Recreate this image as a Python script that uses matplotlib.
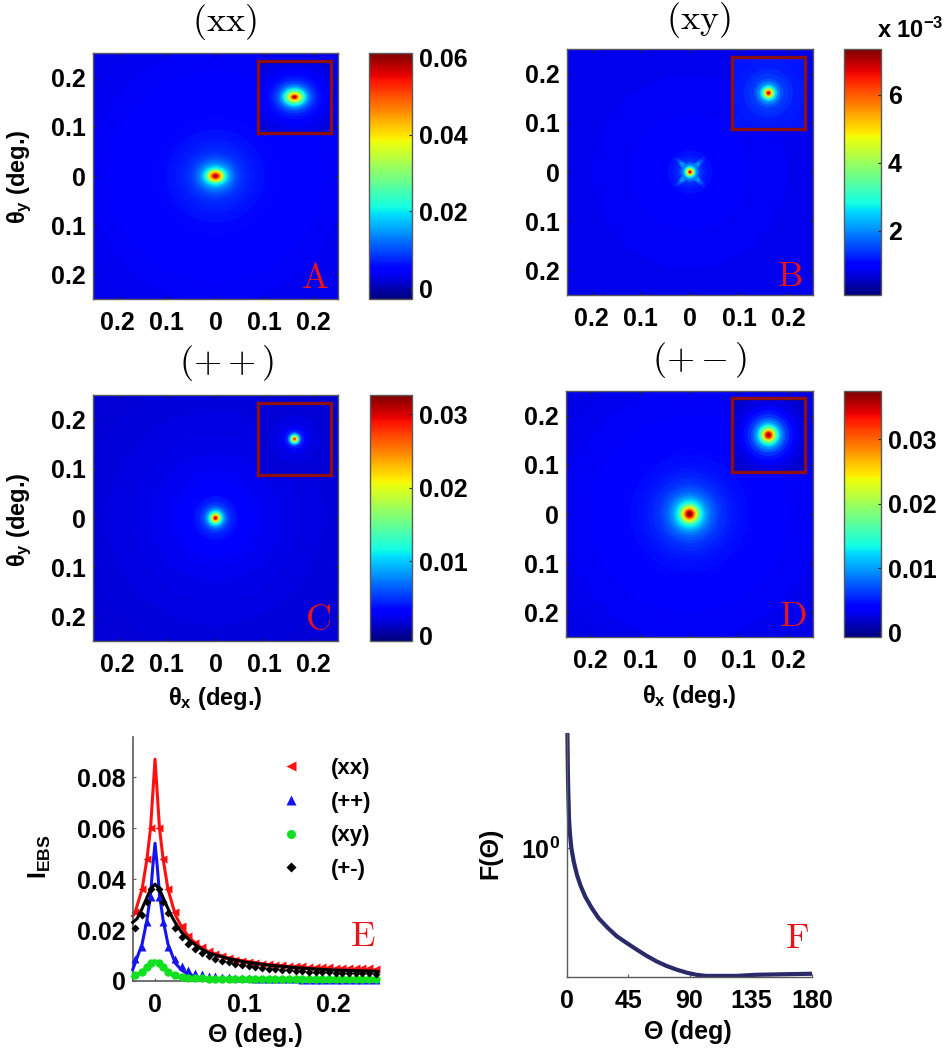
import matplotlib
matplotlib.use("Agg")
import matplotlib.pyplot as plt
from matplotlib.patches import Ellipse
from matplotlib.cm import ScalarMappable
from matplotlib.colors import Normalize
from matplotlib.lines import Line2D

plt.rcParams['font.family'] = ['Liberation Sans', 'DejaVu Sans']
plt.rcParams['font.weight'] = 'bold'
plt.rcParams['axes.labelweight'] = 'bold'
plt.rcParams['mathtext.fontset'] = 'custom'
plt.rcParams['mathtext.bf'] = 'Liberation Sans:bold'
plt.rcParams['mathtext.rm'] = 'Liberation Sans:bold'
plt.rcParams['mathtext.it'] = 'Liberation Sans:bold'

W, H = 949, 1050

# ---- data: angular ticks ----
ANG_TICKS = [-0.2, -0.1, 0, 0.1, 0.2]
ANG_LABELS = ['0.2', '0.1', '0', '0.1', '0.2']
ANG_YLABELS = ['0.2', '0.1', '0', '0.1', '0.2']

# ---- data: panel A (xx) contour levels ----
A_RX = [.36, .30, .26, .22, .19, .17, .15, .13, .115, .10, .09, .08, .07, .062, .055, .049, .044, .04, .036, .032,
        .029, .026, .023, .020, .018, .016, .014, .012, .010, .008, .006, .004, .0025]
A_RY = [.36, .30, .26, .215, .185, .165, .145, .125, .11, .095, .085, .074, .064, .056, .049, .043, .038, .034, .03, .026,
        .023, .02, .0175, .015, .0135, .012, .0105, .009, .0073, .0058, .0043, .0028, .0018]
A_V = [.0034, .0037, .0040, .0043, .0046, .0048, .0051, .0054, .0057, .0060, .0064, .0068, .0073, .0079, .0086, .0094, .0103, .0115, .0128, .0145,
       .016, .0185, .021, .024, .029, .034, .038, .042, .046, .050, .054, .058, .061]
AI_RX = [.11, .09, .075, .065, .055, .048, .042, .036, .031, .027, .023, .02, .017, .014, .012, .009, .0065, .004]
AI_RY = [.10, .08, .065, .055, .046, .040, .034, .029, .025, .021, .018, .015, .0125, .0105, .009, .0065, .0045, .003]
AI_V = [.0022, .003, .0038, .0048, .006, .0072, .0088, .0108, .0135, .0165, .0205, .024, .028, .033, .037, .044, .051, .058]
A_CB = [0, .02, .04, .06]

# ---- data: panel B (xy) ----
B_R = [.36, .20, .12, .08, .06, .045, .035, .028, .022, .018, .015, .012, .0095, .0075, .006, .0045, .003, .0018]
B_V = [.80, .85, .90, .95, 1.0, 1.1, 1.2, 1.3, 1.5, 1.8, 2.1, 2.7, 3.4, 4.2, 4.9, 5.6, 6.4, 7.0]
B_ARM_LEN = [.042, .035, .028]
B_ARM_WID = [.009, .008, .007]
B_ARM_V = [1.3, 1.6, 2.0]
BI_R = [.11, .07, .05, .04, .03, .024, .018, .014, .011, .0085, .0065, .005, .003]
BI_V = [1.15, 1.2, 1.3, 1.4, 1.6, 1.9, 2.4, 3.0, 3.7, 4.5, 5.2, 5.9, 6.7]
B_CB = [2, 4, 6]

# ---- data: panel C (++) ----
C_R = [.36, .28, .22, .17, .13, .10, .08, .065, .055, .045, .038, .032, .027, .023, .02, .017, .015, .013, .011, .009, .0075, .006, .0045, .003, .0015]
C_V = [.0017, .0019, .0021, .0023, .0025, .0027, .0029, .0032, .0035, .0039, .0044, .005, .0058, .0068, .008, .0095, .011, .0125, .015, .018, .021, .0235, .0265, .029, .031]
CI_R = [.11, .05, .03, .02, .014, .010, .007, .005, .003]
CI_V = [.0017, .0021, .0027, .0042, .0075, .012, .017, .022, .027]
C_CB = [0, .01, .02, .03]

# ---- data: panel D (+-) ----
D_R = [.34, .30, .26, .23, .20, .175, .155, .135, .12, .105, .095, .085, .075, .067, .06, .054, .048, .043, .038, .034,
       .03, .027, .024, .021, .019, .017, .015, .013, .011, .009, .007, .005, .003]
D_V = [.0028, .0030, .0032, .0034, .0036, .0038, .0040, .0042, .0044, .0046, .0049, .0052, .0056, .0060, .0065, .0071, .0078, .0086, .0095, .0105,
       .0118, .013, .0145, .0165, .0185, .0205, .0225, .0255, .0285, .031, .034, .036, .037]
DI_R = [.11, .09, .075, .06, .05, .042, .035, .03, .025, .021, .018, .015, .012, .01, .008, .006, .004]
DI_V = [.0016, .0021, .0027, .0036, .0048, .006, .0075, .009, .011, .0135, .016, .019, .023, .0265, .03, .033, .036]
D_CB = [0, .01, .02, .03]

# ---- data: panel E, marker series ----
THETA_M = [-.0227, -.0145, -.009, -.005, .005, .009, .0145, .0227,
           .03, .0375, .045, .0525, .06, .0675, .075, .0825, .09, .0975,
           .105, .1125, .12, .1275, .135, .1425, .15, .1575, .165, .1725,
           .18, .1875, .195, .2025, .21, .2175, .225, .2325, .24, .2475]
XX_M = [.027, .036, .048, .060, .060, .048, .036, .027,
        .0215, .0175, .015, .0132, .0118, .0106, .0097, .009, .0084, .0079,
        .0075, .0071, .0068, .0065, .0063, .0061, .0059, .0058, .0057, .0056,
        .0055, .0054, .0053, .0052, .0051, .0051, .005, .005, .005, .0049]
PP_M = [.0085, .0135, .023, .033, .033, .023, .0135, .0085,
        .006, .0043, .0033, .0026, .0021, .0018, .0016, .0014, .0012, .0011,
        .001, .0009, .00085, .0008, .00075, .0007, .00065, .0006, .00055, .0005,
        .00048, .00045, .00042, .0004, .00038, .00035, .00032, .0003, .00028, .00025]
XY_M = [.0022, .0035, .0055, .0072, .0072, .0055, .0035, .0022,
        .0016, .0013, .0011, .001, .0009, .00085, .0008, .0008, .00075, .00075,
        .0007, .0007, .0007, .0007, .00068, .00068, .00066, .00066, .00065, .00065,
        .00063, .00063, .00062, .00062, .0006, .0006, .0006, .0006, .0006, .0006]
PM_M = [.0206, .026, .031, .036, .036, .031, .0265, .0206,
        .0174, .0145, .0125, .011, .0098, .0088, .008, .0073, .0067, .0062,
        .0058, .0054, .0051, .0048, .0046, .0044, .0042, .004, .0039, .0037,
        .0036, .0035, .0034, .0033, .0032, .0032, .0031, .003, .003, .0029]

# ---- data: panel E, solid curves ----
XX_LX = [-.025, -.0227, -.0145, -.009, -.005, 0, .005, .009, .0145, .0227, .03, .04, .05, .06, .08, .10, .125, .15, .175, .20, .25]
XX_LY = [.0255, .0265, .036, .048, .060, .087, .060, .048, .036, .026, .021, .0165, .0135, .0115, .0092, .0078, .0065, .0057, .005, .0047, .0042]
PP_LX = [-.025, -.0145, -.009, -.005, -.0025, 0, .0025, .005, .009, .0145, .0227, .03, .04, .05, .07, .10, .25]
PP_LY = [.0045, .0145, .024, .034, .045, .054, .045, .034, .024, .0145, .007, .0042, .0022, .0013, .0006, .0003, .0001]
XY_LX = [-.025, -.015, -.01, -.005, 0, .005, .01, .015, .02, .03, .05, .25]
XY_LY = [.0015, .0035, .0055, .0072, .008, .0072, .0055, .0035, .002, .0012, .0008, .0006]
PM_LX = [-.025, -.02, -.015, -.01, -.005, 0, .005, .01, .015, .02, .025, .03, .04, .05, .06, .08, .10, .125, .15, .175, .20, .25]
PM_LY = [.023, .0245, .028, .032, .036, .038, .036, .032, .028, .0245, .0215, .019, .0155, .013, .011, .009, .0075, .0063, .0055, .0048, .0043, .0038]
E_XT = [0, .1, .2]
E_XL = ['0', '0.1', '0.2']
E_YT = [0, .02, .04, .06, .08]
E_YL = ['0', '0.02', '0.04', '0.06', '0.08']

# ---- data: panel F ----
F_X = [.3, .5, .7, 1.0, 1.5, 2.2, 3.2, 5.0, 7.3, 10, 13.4, 18, 23.2, 30, 36.6, 44, 51.3, 58, 65.9, 73, 80.6, 88, 95.2, 102, 110, 124.5, 139, 159, 180]
F_Y = [7.8, 5.2, 3.6, 2.6, 1.66, 1.28, 1.0, .78, .62, .51, .42, .345, .286, .24, .207, .183, .163, .147, .132, .122, .114, .108, .104, .102, .102, .102, .104, .105, .106]
F_XT = [0, 45, 90, 135, 180]


def box(left, top, right, bottom):
    return [left / W, 1 - bottom / H, (right - left) / W, (bottom - top) / H]


def fx(x):
    return x / W


def fy(y):
    return 1 - y / H


fig = plt.figure(figsize=(W / 100, H / 100), dpi=100, facecolor='white')
cmap = plt.get_cmap('jet')
GRAY = '#5a5a5a'
TS = 18


def style_spines(ax, color=GRAY, lw=1.0):
    for s in ax.spines.values():
        s.set_color(color)
        s.set_linewidth(lw)


def rings(ax, rx, ry, vals, norm):
    ax.set_facecolor(cmap(norm(vals[0])))
    for a, b, v in zip(rx, ry, vals):
        ax.add_patch(Ellipse((0, 0), 2 * a, 2 * b, facecolor=cmap(norm(v)), edgecolor='none', lw=0))


def panel(rect, rect_cb, rect_in, lims, main, inset, half, cb_ticks, cb_fmt):
    norm = Normalize(*lims)
    ax = fig.add_axes(box(*rect))
    ax.set_xlim(-.25, .25)
    ax.set_ylim(-.25, .25)
    rings(ax, main[0], main[1], main[2], norm)
    ax.set_xticks(ANG_TICKS, ANG_LABELS)
    ax.set_yticks(ANG_TICKS, ANG_YLABELS)
    ax.tick_params(direction='in', length=2.5, width=.8, color='#222222', labelsize=TS, top=True, right=True)
    ax.tick_params(axis='x', pad=9)
    ax.tick_params(axis='y', pad=5)
    style_spines(ax)
    ins = fig.add_axes(box(*rect_in))
    ins.set_xlim(-half, half)
    ins.set_ylim(-half, half)
    rings(ins, inset[0], inset[1], inset[2], norm)
    ins.set_xticks([])
    ins.set_yticks([])
    style_spines(ins, '#8c0f12', 2.4)
    cax = fig.add_axes(box(*rect_cb))
    cb = fig.colorbar(ScalarMappable(norm=norm, cmap=cmap), cax=cax)
    cb.set_ticks(cb_ticks, labels=[cb_fmt(t) for t in cb_ticks])
    cax.tick_params(direction='in', length=2, width=.8, color='#222222', labelsize=TS, pad=5)
    cb.outline.set_edgecolor(GRAY)
    cb.outline.set_linewidth(1.0)
    return ax, ins, cax


def fmt2(t):
    return '0' if t == 0 else f'{t:.2f}'


def fmt0(t):
    return f'{t:d}'


axA, insA, _ = panel((93, 53, 338, 299), (369, 53, 412, 299), (258, 61, 331, 133), (-.0028, .0613),
                     (A_RX, A_RY, A_V), (AI_RX, AI_RY, AI_V), .074, A_CB, fmt2)
axB, insB, _ = panel((567, 49, 813, 295), (844, 49, 881, 295), (732, 57, 805, 129), (.1, 7.35),
                     (B_R, B_R, B_V), (BI_R, BI_R, BI_V), .074, B_CB, fmt0)
axC, insC, _ = panel((93, 395, 338, 641), (370, 395, 412, 641), (258, 403, 331, 475), (-.0008, .0326),
                     (C_R, C_R, C_V), (CI_R, CI_R, CI_V), .074, C_CB, fmt2)
axD, insD, _ = panel((566, 391, 813, 637), (844, 391, 881, 637), (732, 398, 805, 472), (-.0007, .0375),
                     (D_R, D_R, D_V), (DI_R, DI_R, DI_V), .074, D_CB, fmt2)

# diagonal lobes of the (xy) map sit between the faint rings and the bright core
normB = Normalize(.1, 7.35)
for length, wid, v in zip(B_ARM_LEN, B_ARM_WID, B_ARM_V):
    for ang in (45, -45):
        axB.add_patch(Ellipse((0, 0), 2 * length, 2 * wid, angle=ang,
                              facecolor=cmap(normB(v)), edgecolor='none', lw=0, zorder=1.5))
for r, v in zip(B_R[9:], B_V[9:]):
    axB.add_patch(Ellipse((0, 0), 2 * r, 2 * r, facecolor=cmap(normB(v)), edgecolor='none', lw=0, zorder=2))


def set_labels(ax, xlabel, xpos, ylabel, ypos, size=17):
    trans = ax.transAxes.inverted()
    if xlabel:
        ax.set_xlabel(xlabel, fontsize=size, va='center')
        p = trans.transform(fig.transFigure.transform((fx(xpos[0]), fy(xpos[1]))))
        ax.xaxis.set_label_coords(*p)
    if ylabel:
        ax.set_ylabel(ylabel, fontsize=size, va='center')
        p = trans.transform(fig.transFigure.transform((fx(ypos[0]), fy(ypos[1]))))
        ax.yaxis.set_label_coords(*p)


TX = 'θ$_{\\mathbf{x}}$ (deg.)'
TY = 'θ$_{\\mathbf{y}}$ (deg.)'
set_labels(axA, None, None, TY, (20, 177))
set_labels(axC, TX, (215, 699), TY, (20, 520))
set_labels(axD, TX, (689, 697), None, None)

# titles and panel letters (serif, Computer Modern)
for s, x, y in [('(xx)', 224, 22), ('(xy)', 698, 20), ('(++)', 227, 363), ('(+-)', 700, 360)]:
    fig.text(fx(x), fy(y), f'$\\mathrm{{{s}}}$', fontsize=26, ha='center', va='center', math_fontfamily='cm', color='black')
RED = '#e8141c'
for s, x, y in [('A', 315, 278), ('B', 790, 276), ('C', 318, 620), ('D', 793, 617), ('E', 363, 937), ('F', 797, 938)]:
    fig.text(fx(x), fy(y), f'$\\mathrm{{{s}}}$', fontsize=26, ha='center', va='center', math_fontfamily='cm', color=RED, zorder=10)
fig.text(fx(910), fy(30), 'x 10$^{\\mathbf{-3}}$', fontsize=17, ha='center', va='center')

# ---- panel E ----
axE = fig.add_axes(box(133, 737, 378, 981))
axE.set_xlim(-.0247, .25)
axE.set_ylim(0, .0957)
ser = [('(xx)', XX_LX, XX_LY, XX_M, '#ff1010', '<', 2),
       ('(++)', PP_LX, PP_LY, PP_M, '#1414f0', '^', 3),
       ('(xy)', XY_LX, XY_LY, XY_M, '#10e020', 'o', 4),
       ('(+-)', PM_LX, PM_LY, PM_M, '#000000', 'D', 5)]
handles = []
for name, lx, ly, my, col, mk, z in ser:
    ms = 4.5 if mk == 'D' else 6
    axE.plot(lx, ly, '-', color=col, lw=2.2, zorder=z, clip_on=False)
    axE.plot(THETA_M, my, ls='none', marker=mk, color=col, ms=ms, mec='none', zorder=z, clip_on=False)
    handles.append(Line2D([], [], ls='none', marker=mk, color=col, ms=ms + .5, mec='none', label=name))
axE.set_xticks(E_XT, E_XL)
axE.set_yticks(E_YT, E_YL)
axE.tick_params(direction='in', length=2.5, width=.8, color=GRAY, labelsize=TS)
axE.tick_params(axis='x', pad=9)
axE.tick_params(axis='y', pad=5)
axE.spines['top'].set_visible(False)
axE.spines['right'].set_visible(False)
style_spines(axE, GRAY, 1.2)
axE.legend(handles=handles, loc='upper left', bbox_to_anchor=(.60, .914), frameon=False, fontsize=16,
           handlelength=1, handletextpad=1.27, labelspacing=.57, borderpad=0, borderaxespad=0)
set_labels(axE, 'Θ (deg.)', (255, 1035), 'I$_{\\mathbf{EBS}}$', (40, 857), size=18)

# ---- panel F ----
axF = fig.add_axes(box(567, 733, 812, 977))
axF.set_yscale('log')
axF.set_xlim(0, 180)
axF.set_ylim(.1, 7.8)
axF.plot(F_X, F_Y, color='#2a2a6a', lw=3, solid_capstyle='butt', clip_on=False)
axF.set_xticks(F_XT, [str(t) for t in F_XT])
axF.set_yticks([1], ['10$^{\\mathbf{0}}$'])
axF.minorticks_off()
axF.tick_params(direction='in', length=2.5, width=.8, color=GRAY, labelsize=TS)
axF.tick_params(axis='x', pad=9)
axF.tick_params(axis='y', pad=5)
axF.spines['top'].set_visible(False)
axF.spines['right'].set_visible(False)
style_spines(axF, GRAY, 1.0)
set_labels(axF, 'Θ (deg)', (688, 1032), 'F(Θ)', (490, 853), size=18)

fig.savefig('out.png', dpi=100)
